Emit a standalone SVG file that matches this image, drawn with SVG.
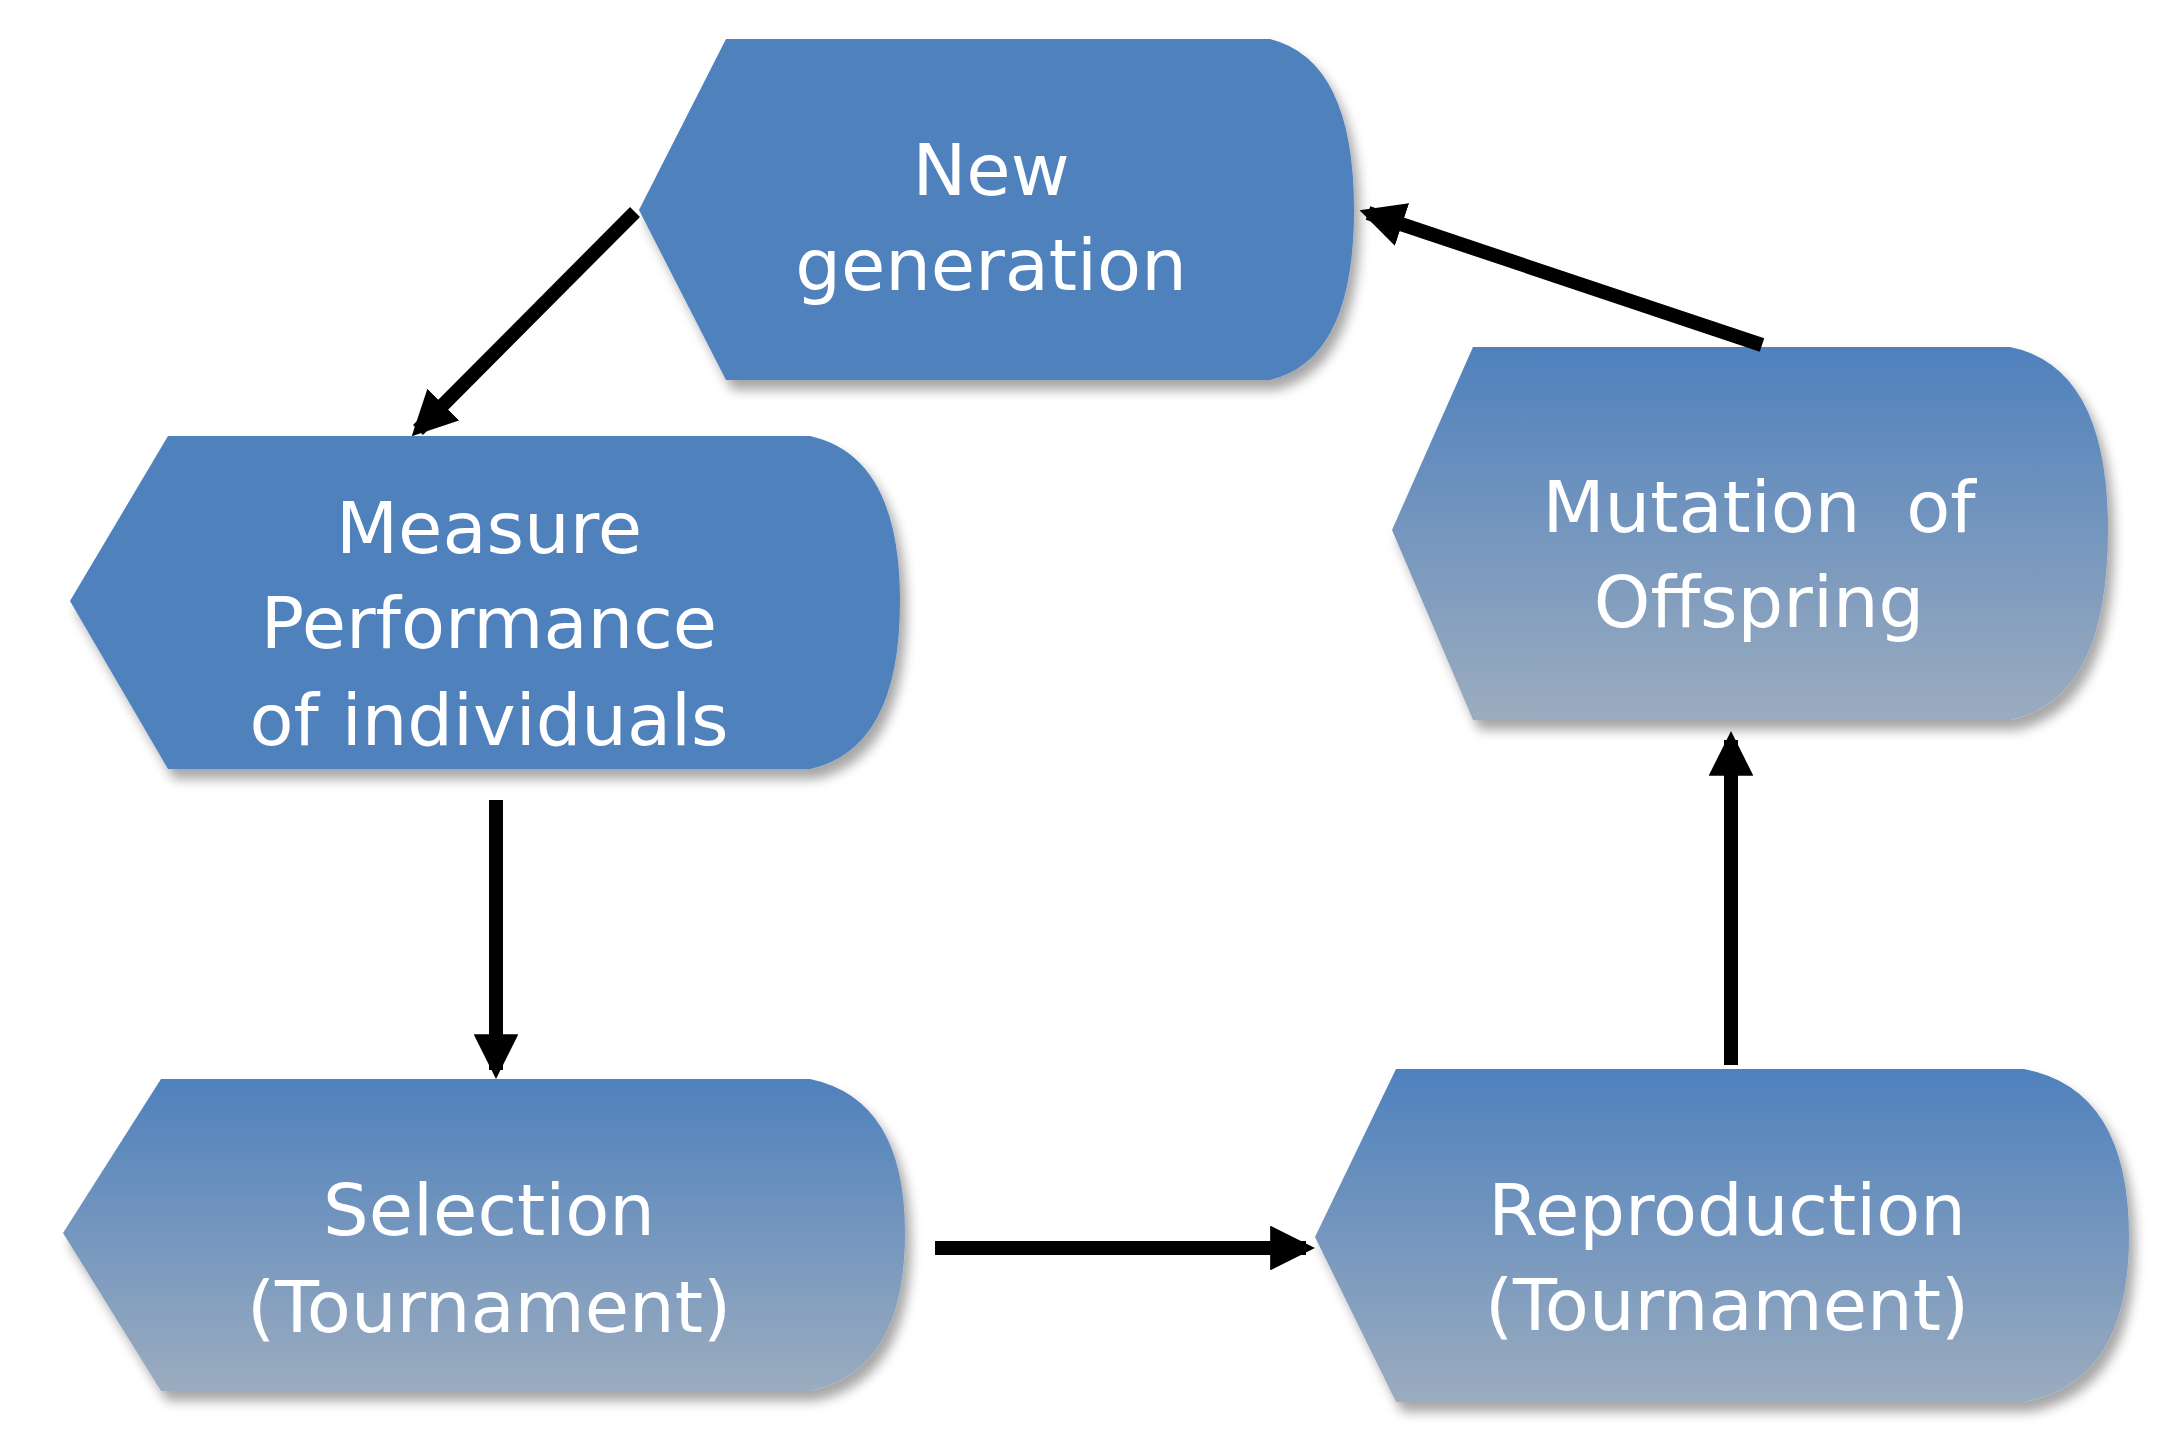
<svg xmlns="http://www.w3.org/2000/svg" width="2178" height="1454" viewBox="0 0 2178 1454">
<defs>
<linearGradient id="g" x1="0" y1="0" x2="0" y2="1"><stop offset="0" stop-color="#4f81bd"/><stop offset="1" stop-color="#9bacbf"/></linearGradient>
<filter id="sh" x="-10%" y="-10%" width="125%" height="130%"><feDropShadow dx="6" dy="10" stdDeviation="6" flood-color="#000" flood-opacity="0.35"/></filter>
<marker id="ah" viewBox="0 0 10 10" refX="8" refY="5" markerWidth="3.2" markerHeight="3.2" orient="auto" markerUnits="strokeWidth"><path d="M0,0 L10,5 L0,10 z" fill="#000"/></marker>
</defs>
<style>
.solid{fill:#4f81bd;filter:url(#sh)}
.grad{fill:url(#g);filter:url(#sh)}
text{font-family:"DejaVu Sans",Verdana,sans-serif;font-size:72px;fill:#fff;text-anchor:middle}
.c{stroke:#000;stroke-width:14;fill:none;marker-end:url(#ah)}
</style>
<rect width="2178" height="1454" fill="#fff"/>
<g id="new-generation"><path class="solid" d="M639,210 L726,39 H1270 Q1354,60 1354,210 Q1354,360 1270,380 H726 Z"/>
<text x="991" y="195">New</text><text x="991" y="290">generation</text></g>
<g id="measure"><path class="solid" d="M70,601 L168,436 H810 Q900,456 900,601 Q900,749 810,769 H168 Z"/>
<text x="489" y="553">Measure</text><text x="489" y="648">Performance</text><text x="489" y="745">of individuals</text></g>
<g id="selection"><path class="grad" d="M63,1233 L161,1079 H810 Q905,1099 905,1233 Q905,1371 810,1391 H161 Z"/>
<text x="489" y="1235">Selection</text><text x="489" y="1332">(Tournament)</text></g>
<g id="reproduction"><path class="grad" d="M1315,1237 L1396,1069 H2024 Q2129,1089 2129,1237 Q2129,1382 2024,1402 H1396 Z"/>
<text x="1727" y="1235">Reproduction</text><text x="1727" y="1330">(Tournament)</text></g>
<g id="mutation"><path class="grad" d="M1392,530 L1473,347 H2010 Q2108,367 2108,530 Q2108,700 2010,720 H1473 Z"/>
<text x="1759" y="532" xml:space="preserve">Mutation  of</text><text x="1759" y="627">Offspring</text></g>
<g id="connectors">
<line class="c" x1="635" y1="212" x2="418" y2="430"/>
<line class="c" x1="496" y1="800" x2="496" y2="1070"/>
<line class="c" x1="935" y1="1248" x2="1306" y2="1248"/>
<line class="c" x1="1731" y1="1065" x2="1731" y2="740"/>
<line class="c" x1="1762" y1="345" x2="1368" y2="213"/>
</g>
</svg>
